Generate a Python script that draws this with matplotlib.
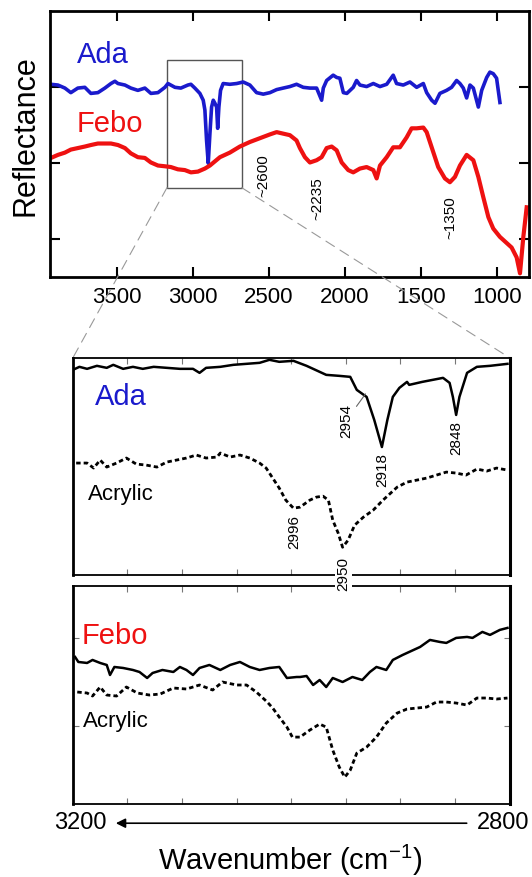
import numpy as np
import matplotlib
matplotlib.use("Agg")
import matplotlib.pyplot as plt
from matplotlib.patches import Rectangle, ConnectionPatch

plt.rcParams['font.family'] = ['Liberation Sans', 'DejaVu Sans']
plt.rcParams['mathtext.fontset'] = 'custom'
plt.rcParams['mathtext.rm'] = 'Liberation Sans'

# ---- top panel: full spectra ----
ada_wn = [3934, 3888, 3842, 3803, 3757, 3711, 3671, 3625, 3579, 3539, 3513, 3493,
          3447, 3408, 3362, 3316, 3276, 3230, 3184, 3164, 3118, 3079, 3033, 3013,
          2987, 2954, 2932, 2921, 2910, 2899, 2888, 2877, 2866, 2855, 2844, 2837,
          2829, 2818, 2801, 2757, 2712, 2669, 2625, 2581, 2537, 2493, 2449, 2406,
          2362, 2318, 2274, 2230, 2186, 2153, 2142, 2120, 2077, 2054, 2033, 2010,
          1987, 1945, 1923, 1901, 1857, 1813, 1769, 1725, 1682, 1660, 1616, 1572,
          1528, 1484, 1462, 1429, 1407, 1375, 1331, 1298, 1265, 1243, 1221, 1199,
          1177, 1155, 1122, 1100, 1067, 1046, 1024, 1002, 980]
ada_r = [2.54, 2.53, 2.49, 2.43, 2.49, 2.50, 2.42, 2.43, 2.49, 2.55, 2.58, 2.55,
         2.53, 2.49, 2.46, 2.49, 2.42, 2.43, 2.50, 2.55, 2.50, 2.49, 2.53, 2.54,
         2.49, 2.42, 2.33, 2.20, 1.80, 1.50, 1.89, 2.24, 2.33, 2.29, 2.24, 1.96,
         2.24, 2.46, 2.55, 2.54, 2.55, 2.57, 2.53, 2.43, 2.41, 2.43, 2.47, 2.49,
         2.51, 2.54, 2.50, 2.49, 2.49, 2.33, 2.49, 2.59, 2.66, 2.63, 2.62, 2.43,
         2.42, 2.50, 2.59, 2.53, 2.51, 2.55, 2.51, 2.54, 2.66, 2.55, 2.53, 2.57,
         2.50, 2.55, 2.43, 2.33, 2.29, 2.42, 2.46, 2.50, 2.59, 2.55, 2.49, 2.36,
         2.53, 2.49, 2.24, 2.46, 2.63, 2.70, 2.68, 2.62, 2.30]

febo_wn = [3934, 3888, 3842, 3803, 3757, 3711, 3671, 3625, 3579, 3539, 3493, 3447,
           3408, 3362, 3316, 3276, 3230, 3184, 3145, 3099, 3053, 3013, 2967, 2921,
           2888, 2822, 2757, 2691, 2625, 2559, 2493, 2449, 2406, 2362, 2318, 2296,
           2263, 2230, 2186, 2153, 2120, 2087, 2054, 2021, 1978, 1945, 1901, 1857,
           1813, 1791, 1769, 1725, 1682, 1638, 1594, 1561, 1528, 1484, 1462, 1429,
           1386, 1342, 1309, 1276, 1243, 1199, 1155, 1122, 1089, 1056, 1024, 980,
           936, 903, 870, 848, 826, 804]
febo_r = [1.57, 1.61, 1.64, 1.68, 1.70, 1.72, 1.74, 1.76, 1.76, 1.76, 1.74, 1.70,
          1.63, 1.58, 1.57, 1.51, 1.47, 1.46, 1.45, 1.42, 1.41, 1.38, 1.39, 1.43,
          1.47, 1.58, 1.64, 1.72, 1.78, 1.83, 1.88, 1.91, 1.89, 1.87, 1.80, 1.70,
          1.58, 1.51, 1.54, 1.58, 1.70, 1.72, 1.67, 1.51, 1.41, 1.38, 1.43, 1.45,
          1.41, 1.30, 1.47, 1.58, 1.71, 1.71, 1.84, 1.96, 1.96, 1.97, 1.91, 1.71,
          1.45, 1.30, 1.25, 1.32, 1.47, 1.61, 1.54, 1.32, 1.05, 0.79, 0.64, 0.53,
          0.45, 0.39, 0.26, 0.05, 0.53, 0.92]

top_notes = ["~2600", "~2235", "~1350"]
top_note_x = [2539, 2184, 1309]
top_note_y = [1.34, 1.04, 0.78]

# ---- middle panel: Ada vs acrylic (3200-2800) ----
ada_z_wn = [3200, 3194, 3187, 3178, 3169, 3163, 3154, 3145, 3136, 3126, 3114, 3102,
            3090, 3084, 3078, 3065, 3053, 3041, 3029, 3020, 3011, 2998, 2986, 2968,
            2956, 2946, 2940, 2931, 2924, 2917, 2912, 2907, 2901, 2894, 2892, 2880,
            2861, 2855, 2852, 2849, 2846, 2839, 2830, 2818, 2802]
ada_z = [2.05, 2.08, 2.06, 2.09, 2.07, 2.10, 2.06, 2.08, 2.06, 2.08, 2.07, 2.06,
         2.06, 2.02, 2.07, 2.08, 2.10, 2.11, 2.12, 2.15, 2.13, 2.14, 2.09, 2.00,
         1.99, 1.98, 1.85, 1.78, 1.55, 1.28, 1.55, 1.78, 1.87, 1.93, 1.90, 1.93,
         1.97, 1.92, 1.78, 1.60, 1.78, 2.02, 2.08, 2.09, 2.11]

acr1_wn = [3197, 3187, 3181, 3175, 3169, 3160, 3151, 3142, 3133, 3123, 3114, 3105,
           3096, 3087, 3078, 3068, 3065, 3056, 3047, 3038, 3029, 3023, 3017, 3011,
           3005, 2998, 2992, 2983, 2977, 2971, 2966, 2962, 2957, 2953, 2948, 2942,
           2934, 2925, 2916, 2909, 2903, 2894, 2885, 2876, 2867, 2858, 2849, 2840,
           2830, 2821, 2812, 2802]
acr1 = [1.12, 1.12, 1.07, 1.15, 1.08, 1.12, 1.17, 1.11, 1.10, 1.08, 1.13, 1.15,
        1.17, 1.20, 1.17, 1.18, 1.22, 1.18, 1.20, 1.17, 1.12, 1.07, 0.97, 0.87,
        0.75, 0.67, 0.68, 0.75, 0.78, 0.79, 0.75, 0.55, 0.42, 0.28, 0.35, 0.50,
        0.58, 0.65, 0.75, 0.82, 0.88, 0.93, 0.95, 0.97, 1.00, 1.03, 1.02, 1.00,
        1.06, 1.04, 1.07, 1.05]

# ---- bottom panel: Febo vs acrylic ----
febo_z_wn = [3198, 3195, 3187, 3182, 3175, 3169, 3166, 3162, 3154, 3145, 3139, 3132,
             3127, 3118, 3108, 3102, 3096, 3090, 3084, 3075, 3065, 3056, 3047, 3038,
             3029, 3020, 3011, 3004, 2995, 2992, 2986, 2980, 2974, 2968, 2962, 2953,
             2944, 2935, 2928, 2922, 2913, 2907, 2898, 2892, 2882, 2873, 2864, 2858,
             2849, 2839, 2834, 2825, 2818, 2809, 2802]
febo_z = [1.47, 1.42, 1.41, 1.44, 1.41, 1.39, 1.29, 1.37, 1.36, 1.34, 1.32, 1.26,
          1.31, 1.34, 1.32, 1.37, 1.34, 1.29, 1.36, 1.39, 1.34, 1.39, 1.42, 1.37,
          1.34, 1.36, 1.37, 1.26, 1.27, 1.27, 1.28, 1.19, 1.24, 1.17, 1.26, 1.22,
          1.27, 1.24, 1.32, 1.37, 1.34, 1.44, 1.49, 1.52, 1.57, 1.64, 1.62, 1.61,
          1.66, 1.67, 1.66, 1.72, 1.69, 1.74, 1.76]

acr2_wn = [3196, 3187, 3182, 3175, 3169, 3160, 3151, 3141, 3130, 3120, 3108, 3096,
           3084, 3072, 3063, 3050, 3041, 3032, 3022, 3017, 3011, 3004, 2999, 2992,
           2983, 2974, 2968, 2962, 2956, 2951, 2946, 2940, 2931, 2922, 2913, 2903,
           2894, 2885, 2876, 2867, 2858, 2849, 2839, 2830, 2821, 2812, 2802]
acr2 = [1.12, 1.11, 1.08, 1.17, 1.09, 1.08, 1.17, 1.11, 1.09, 1.10, 1.16, 1.15,
        1.19, 1.14, 1.22, 1.19, 1.19, 1.12, 1.02, 0.96, 0.87, 0.77, 0.67, 0.67,
        0.74, 0.80, 0.77, 0.54, 0.37, 0.27, 0.34, 0.51, 0.57, 0.67, 0.81, 0.91,
        0.95, 0.96, 0.97, 1.02, 1.02, 1.01, 0.99, 1.06, 1.06, 1.05, 1.06]

BLUE = '#1a1acc'
RED = '#ee1111'
dots = (0, (1.6, 1.1))

fig = plt.figure(figsize=(5.32, 8.77), dpi=100)
ax1 = fig.add_axes([0.094, 0.684, 0.900, 0.303])
ax2 = fig.add_axes([0.137, 0.344, 0.821, 0.248])
ax3 = fig.add_axes([0.137, 0.083, 0.821, 0.249])
ax2.set_zorder(3)  # so the "2950" label sits over the lower panel's top spine

# top panel
ax1.plot(ada_wn, ada_r, color=BLUE, lw=2.6)
ax1.plot(febo_wn, febo_r, color=RED, lw=3)
ax1.set_xlim(3940, 790)
ax1.set_ylim(0, 3.5)
ax1.set_xticks([3500, 3000, 2500, 2000, 1500, 1000])
ax1.set_yticks([0.5, 1.5, 2.5])
ax1.set_yticklabels([])
ax1.tick_params(direction='in', top=True, right=True, length=7, width=1.5,
                labelsize=16, pad=7)
for s in ax1.spines.values():
    s.set_linewidth(2)
ax1.text(3765, 2.93, "Ada", color=BLUE, fontsize=21, va='center')
ax1.text(3765, 2.02, "Febo", color=RED, fontsize=21, va='center')
for t, x, y in zip(top_notes, top_note_x, top_note_y):
    ax1.text(x, y, t, rotation=90, fontsize=11, ha='center', va='center')
ax1.add_patch(Rectangle((3170, 1.18), 2680 - 3170, 2.86 - 1.18, fill=False,
                        ec='#555555', lw=1))
fig.text(0.047, 0.845, "Reflectance", rotation=90, fontsize=22,
         ha='center', va='center')

# middle panel
ax2.plot(ada_z_wn, ada_z, color='black', lw=1.8)
ax2.plot(acr1_wn, acr1, color='black', lw=2, ls=dots)
ax2.set_xlim(3200, 2800)
ax2.set_ylim(0, 2.17)
ax2.text(3180, 1.78, "Ada", color=BLUE, fontsize=21, va='center')
ax2.text(3186, 0.81, "Acrylic", color='black', fontsize=16, va='center')
ax2.annotate("2954", xy=(2932, 1.81), xytext=(2950, 1.54), rotation=90,
             fontsize=11, ha='center', va='center',
             arrowprops=dict(arrowstyle='-', color='#666666', lw=0.8, shrinkA=1, shrinkB=0))
ax2.text(2917, 1.05, "2918", rotation=90, fontsize=11, ha='center', va='center')
ax2.text(2849, 1.37, "2848", rotation=90, fontsize=11, ha='center', va='center')
ax2.text(2997, 0.43, "2996", rotation=90, fontsize=11, ha='center', va='center')
ax2.text(2952, 0.01, "2950", rotation=90, fontsize=11, ha='center', va='center',
         bbox=dict(fc='white', ec='none', pad=1), zorder=5, clip_on=False)

# bottom panel
ax3.plot(febo_z_wn, febo_z, color='black', lw=1.8)
ax3.plot(acr2_wn, acr2, color='black', lw=2, ls=dots)
ax3.set_xlim(3200, 2800)
ax3.set_ylim(0, 2.18)
ax3.set_yticks([0.78, 1.66])
ax3.text(3192, 1.68, "Febo", color=RED, fontsize=21, va='center')
ax3.text(3191, 0.83, "Acrylic", color='black', fontsize=16, va='center')

for ax in (ax2, ax3):
    ax.set_xticks(np.arange(3150, 2800, -50))
    ax.tick_params(direction='in', top=True, right=True, length=4, width=0.8,
                   color='#777777', labelbottom=False, labelleft=False)
    for s in ax.spines.values():
        s.set_linewidth(1.3)
    ax.spines['left'].set_linewidth(2)
    ax.spines['right'].set_linewidth(2.2)
ax2.set_yticks([])

# zoom lines from the box to the middle panel
for xa, xb in [(3170, 3200), (2680, 2800)]:
    con = ConnectionPatch(xyA=(xa, 1.18), coordsA=ax1.transData,
                          xyB=(xb, 2.17), coordsB=ax2.transData,
                          color='#999999', lw=0.8, ls=(0, (9, 6)))
    fig.add_artist(con)

# wavenumber arrow and label
ax3.annotate("", xy=(0.092, -0.087), xytext=(0.908, -0.087),
             xycoords='axes fraction', textcoords='axes fraction',
             arrowprops=dict(arrowstyle='-|>', color='black', lw=1.2,
                             mutation_scale=14))
ax3.text(0.078, -0.087, "3200", transform=ax3.transAxes, fontsize=17,
         ha='right', va='center')
ax3.text(0.924, -0.087, "2800", transform=ax3.transAxes, fontsize=17,
         ha='left', va='center')
ax3.text(0.497, -0.257, "Wavenumber (cm$^{-1}$)", transform=ax3.transAxes,
         fontsize=21, ha='center', va='center')

fig.savefig("out.png", dpi=100)
